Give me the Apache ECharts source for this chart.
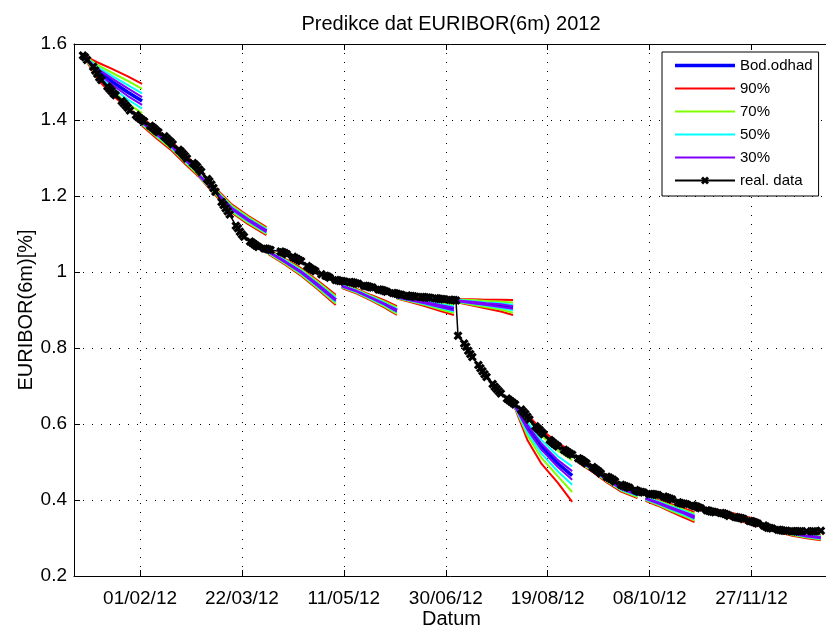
<!DOCTYPE html>
<html><head><meta charset="utf-8">
<script src="https://cdn.jsdelivr.net/npm/echarts@6/dist/echarts.min.js"></script>
<style>html,body{margin:0;padding:0;background:#fff;}#c{width:826px;height:628px;}</style>
</head><body><div id="c"></div>
<script>
// ---- data (x = day of year 2012, Jan 1 = 1) ----
const tickDays = [32, 82, 132, 182, 232, 282, 332];
const tickLabels = ['01/02/12', '22/03/12', '11/05/12', '30/06/12', '19/08/12', '08/10/12', '27/11/12'];
const legendNames = ['Bod.odhad', '90%', '70%', '50%', '30%', 'real. data'];

const realDays = [4,5,6, 9,10,11,12,13, 16,17,18,19,20, 23,24,25,26,27, 30,31,32,33,34, 37,38,39,40,41,
 44,45,46,47,48, 51,52,53,54,55, 58,59,60,61,62, 65,66,67,68,69, 72,73,74,75,76, 79,80,81,82,83,
 86,87,88,89,90, 93,94,95,96, 101,102,103,104, 107,108,109,110,111, 114,115,116,117,118, 121,123,124,125,
 128,129,130,131,132, 135,136,137,138,139, 142,143,144,145,146, 149,150,151,152,153, 156,157,158,159,160,
 163,164,165,166,167, 170,171,172,173,174, 177,178,179,180,181, 184,185,186,187,188, 191,192,193,194,195,
 198,199,200,201,202, 205,206,207,208,209, 212,213,214,215,216, 219,220,221,222,223, 226,227,228,229,230,
 233,234,235,236,237, 240,241,242,243,244, 247,248,249,250,251, 254,255,256,257,258, 261,262,263,264,265,
 268,269,270,271,272, 275,276,277,278,279, 282,283,284,285,286, 289,290,291,292,293, 296,297,298,299,300,
 303,304,305,306,307, 310,311,312,313,314, 317,318,319,320,321, 324,325,326,327,328, 331,332,333,334,335,
 338,339,340,341,342, 345,346,347,348,349, 352,353,354,355,356, 359,362,363, 366];
const realVals = [1.570,1.565,1.558, 1.540,1.530,1.522,1.512,1.505, 1.488,1.482,1.476,1.470,1.465,
 1.450,1.444,1.438,1.432,1.425, 1.413,1.408,1.404,1.400,1.396, 1.385,1.381,1.377,1.372,1.368,
 1.357,1.352,1.347,1.342,1.336, 1.322,1.317,1.311,1.305,1.299, 1.287,1.282,1.277,1.270,1.264,
 1.245,1.239,1.230,1.221,1.211, 1.184,1.176,1.168,1.160,1.151, 1.122,1.115,1.106,1.099,1.093,
 1.080,1.077,1.073,1.069,1.066, 1.062,1.061,1.059,1.058, 1.054,1.052,1.050,1.047,
 1.040,1.037,1.034,1.031,1.028, 1.016,1.012,1.008,1.005,1.002, 0.994,0.990,0.988,0.985,
 0.979,0.978,0.976,0.976,0.975, 0.974,0.973,0.972,0.970,0.969, 0.964,0.963,0.962,0.960,0.959,
 0.954,0.953,0.952,0.950,0.948, 0.945,0.944,0.943,0.941,0.940, 0.938,0.937,0.937,0.936,0.935,
 0.934,0.934,0.933,0.933,0.932, 0.931,0.930,0.929,0.929,0.928, 0.927,0.926,0.926,0.925,0.832,
 0.812,0.803,0.793,0.784,0.776, 0.755,0.747,0.739,0.731,0.724, 0.705,0.698,0.692,0.686,0.680,
 0.667,0.663,0.659,0.655,0.651, 0.638,0.632,0.626,0.619,0.612, 0.594,0.589,0.584,0.578,0.573,
 0.558,0.553,0.549,0.545,0.541, 0.532,0.529,0.525,0.522,0.519, 0.510,0.507,0.504,0.500,0.496,
 0.487,0.483,0.479,0.475,0.470, 0.461,0.459,0.456,0.453,0.449, 0.440,0.438,0.436,0.434,0.432,
 0.426,0.424,0.422,0.421,0.420, 0.416,0.416,0.415,0.414,0.413, 0.409,0.407,0.405,0.403,0.401,
 0.394,0.392,0.391,0.390,0.389, 0.386,0.384,0.383,0.380,0.378, 0.373,0.372,0.370,0.369,0.368,
 0.366,0.365,0.363,0.361,0.358, 0.355,0.354,0.353,0.352,0.350, 0.345,0.344,0.342,0.340,0.338,
 0.333,0.330,0.327,0.326,0.325, 0.322,0.321,0.320,0.319,0.319, 0.318,0.318,0.318,0.318,0.318,
 0.318,0.318,0.318, 0.319];

// forecast windows (one row per forecast)
const fanDays = [[4,11,18,26,33],[33,40,47,54,61],[61,69,77,85,94],[95,103,111,119,128],
 [131,138,145,152,158],[158,165,172,179,186],[188,195,202,209,215],[215,222,229,237,244],
 [247,254,261,268,276],[280,286,292,298,304],[306,313,320,327,335],[338,345,352,359,366]];
const bodOdhad = [[1.571,1.530,1.502,1.473,1.450],[1.395,1.364,1.334,1.297,1.262],[1.254,1.212,1.167,1.137,1.108],
 [1.053,1.028,1.000,0.967,0.927],[0.963,0.950,0.933,0.916,0.899],[0.934,0.927,0.919,0.911,0.903],
 [0.924,0.920,0.916,0.912,0.907],[0.655,0.592,0.540,0.496,0.464],[0.505,0.482,0.455,0.431,0.415],
 [0.404,0.393,0.380,0.368,0.355],[0.380,0.370,0.362,0.352,0.339],[0.333,0.321,0.312,0.306,0.301]];
const hi90 = [[1.571,1.552,1.535,1.515,1.495],[1.405,1.376,1.346,1.309,1.273],[1.258,1.221,1.178,1.148,1.118],
 [1.059,1.035,1.010,0.978,0.940],[0.968,0.956,0.940,0.925,0.910],[0.938,0.933,0.928,0.923,0.918],
 [0.928,0.928,0.927,0.927,0.926],[0.655,0.625,0.585,0.550,0.528],[0.512,0.490,0.463,0.440,0.424],
 [0.410,0.400,0.390,0.380,0.368],[0.384,0.376,0.369,0.360,0.348],[0.336,0.326,0.318,0.312,0.307]];
const hi70 = [[1.571,1.545,1.525,1.503,1.482],[1.402,1.372,1.342,1.305,1.270],[1.257,1.218,1.175,1.145,1.115],
 [1.057,1.033,1.007,0.975,0.936],[0.967,0.954,0.938,0.922,0.907],[0.937,0.931,0.925,0.919,0.913],
 [0.927,0.926,0.924,0.922,0.920],[0.655,0.615,0.570,0.530,0.505],[0.510,0.488,0.460,0.437,0.421],
 [0.408,0.398,0.387,0.376,0.364],[0.383,0.374,0.367,0.358,0.345],[0.335,0.325,0.316,0.310,0.305]];
const hi50 = [[1.571,1.540,1.517,1.492,1.470],[1.399,1.369,1.339,1.302,1.266],[1.256,1.215,1.171,1.141,1.112],
 [1.055,1.031,1.004,0.971,0.932],[0.965,0.952,0.936,0.919,0.903],[0.936,0.929,0.923,0.916,0.909],
 [0.926,0.923,0.920,0.918,0.914],[0.655,0.605,0.557,0.515,0.488],[0.508,0.485,0.458,0.435,0.418],
 [0.406,0.396,0.384,0.373,0.360],[0.382,0.372,0.365,0.355,0.343],[0.334,0.323,0.314,0.308,0.303]];
const hi30 = [[1.571,1.535,1.510,1.483,1.460],[1.397,1.366,1.336,1.299,1.264],[1.255,1.213,1.169,1.139,1.110],
 [1.054,1.029,1.002,0.969,0.929],[0.964,0.951,0.934,0.917,0.901],[0.935,0.928,0.921,0.913,0.906],
 [0.925,0.922,0.918,0.915,0.910],[0.655,0.598,0.548,0.505,0.476],[0.506,0.484,0.456,0.433,0.416],
 [0.405,0.394,0.382,0.370,0.358],[0.381,0.371,0.363,0.354,0.341],[0.334,0.322,0.313,0.307,0.302]];
const lo30 = [[1.571,1.525,1.494,1.463,1.440],[1.393,1.362,1.332,1.295,1.259],[1.253,1.210,1.165,1.135,1.105],
 [1.052,1.026,0.998,0.964,0.924],[0.962,0.949,0.932,0.914,0.896],[0.933,0.925,0.917,0.908,0.899],
 [0.923,0.918,0.913,0.908,0.903],[0.655,0.586,0.532,0.487,0.453],[0.504,0.480,0.453,0.429,0.413],
 [0.403,0.391,0.378,0.366,0.352],[0.379,0.369,0.360,0.350,0.337],[0.333,0.320,0.311,0.304,0.299]];
const lo50 = [[1.571,1.520,1.487,1.454,1.430],[1.391,1.359,1.329,1.292,1.257],[1.252,1.208,1.163,1.133,1.103],
 [1.051,1.025,0.996,0.962,0.921],[0.961,0.948,0.930,0.912,0.894],[0.932,0.924,0.915,0.906,0.896],
 [0.922,0.917,0.911,0.905,0.899],[0.655,0.578,0.522,0.475,0.440],[0.502,0.479,0.451,0.427,0.411],
 [0.402,0.390,0.376,0.363,0.350],[0.378,0.368,0.359,0.349,0.335],[0.332,0.319,0.310,0.303,0.298]];
const lo70 = [[1.571,1.515,1.478,1.443,1.418],[1.388,1.356,1.326,1.289,1.253],[1.251,1.205,1.159,1.129,1.100],
 [1.049,1.022,0.993,0.958,0.917],[0.960,0.946,0.928,0.909,0.890],[0.931,0.922,0.913,0.902,0.892],
 [0.921,0.914,0.907,0.901,0.893],[0.655,0.570,0.510,0.462,0.421],[0.500,0.476,0.449,0.425,0.408],
 [0.400,0.387,0.373,0.360,0.346],[0.377,0.366,0.356,0.346,0.333],[0.331,0.318,0.308,0.301,0.296]];
const lo90 = [[1.571,1.508,1.468,1.430,1.405],[1.385,1.352,1.322,1.285,1.250],[1.250,1.202,1.156,1.126,1.097],
 [1.047,1.020,0.990,0.955,0.913],[0.958,0.944,0.926,0.906,0.887],[0.930,0.920,0.910,0.898,0.887],
 [0.920,0.912,0.904,0.896,0.887],[0.655,0.558,0.495,0.445,0.395],[0.498,0.474,0.446,0.422,0.405],
 [0.398,0.385,0.370,0.356,0.342],[0.376,0.364,0.354,0.344,0.330],[0.330,0.316,0.306,0.299,0.294]];

// ---- chart ----
const FONT = "'Liberation Sans', Arial, Helvetica, sans-serif";
const X_MIN = -0.4, X_MAX = 370;
const crossPath = 'path://M0,2.5L2.5,0L5,2.5L7.5,0L10,2.5L7.5,5L10,7.5L7.5,10L5,7.5L2.5,10L0,7.5L2.5,5Z';

const groups = [
  { name: legendNames[0], color: '#0000ff', width: 3.5, lines: [bodOdhad] },
  { name: legendNames[1], color: '#ff0000', width: 2, lines: [hi90, lo90] },
  { name: legendNames[2], color: '#80ff00', width: 2, lines: [hi70, lo70] },
  { name: legendNames[3], color: '#00ffff', width: 2, lines: [hi50, lo50] },
  { name: legendNames[4], color: '#8000ff', width: 2, lines: [hi30, lo30] }
];
const series = [];
groups.forEach(g => {
  g.lines.forEach(arr => {
    fanDays.forEach((days, i) => {
      series.push({
        type: 'line', name: g.name, xAxisIndex: 0, yAxisIndex: 0,
        data: days.map((d, j) => [d, arr[i][j]]),
        symbol: 'none', showSymbol: false, silent: true,
        lineStyle: { color: g.color, width: g.width },
        itemStyle: { color: g.color },
        emphasis: { disabled: true }
      });
    });
  });
});
series.push({
  type: 'line', name: legendNames[5], xAxisIndex: 0, yAxisIndex: 0,
  data: realDays.map((d, i) => [d, realVals[i]]),
  symbol: crossPath, symbolSize: 9, showSymbol: true, silent: true,
  lineStyle: { color: '#000', width: 1.5 },
  itemStyle: { color: '#000' },
  emphasis: { disabled: true }
});

const legendData = groups.map(g => ({
  name: g.name,
  icon: 'path://M0,0h60v' + g.width + 'h-60z',
  itemStyle: { color: g.color }
}));
legendData.push({ name: legendNames[5] });

const chart = echarts.init(document.getElementById('c'), null, { renderer: 'canvas' });
chart.setOption({
  animation: false,
  backgroundColor: '#fff',
  textStyle: { fontFamily: FONT },
  title: {
    text: 'Predikce dat EURIBOR(6m) 2012', left: 446, top: 9, textAlign: 'center',
    textStyle: { fontFamily: FONT, fontSize: 20, fontWeight: 'normal', color: '#000' }
  },
  legend: {
    data: legendData, orient: 'vertical', left: 662, top: 52,
    itemWidth: 60, itemHeight: 10, itemGap: 8, symbolKeepAspect: true,
    padding: [6, 6, 8, 12],
    backgroundColor: '#fff', borderColor: '#000', borderWidth: 1, borderRadius: 0,
    textStyle: { fontSize: 15, fontFamily: FONT, color: '#000' },
    selectedMode: false
  },
  grid: { left: 74, top: 44, width: 755, height: 532, containLabel: false, outerBoundsMode: 'none', show: false },
  xAxis: [{
    type: 'value', min: X_MIN, max: X_MAX, position: 'bottom',
    axisLine: { show: true, onZero: false, lineStyle: { color: '#000', width: 1 } },
    axisTick: { show: true, inside: true, length: 6, customValues: tickDays, lineStyle: { color: '#000' } },
    axisLabel: { show: true, customValues: tickDays, formatter: v => tickLabels[tickDays.indexOf(v)] || '',
      color: '#000', fontSize: 19, fontFamily: FONT, margin: 13 },
    splitLine: { show: true, lineStyle: { color: '#000', width: 1, type: [1, 8] } },
    name: 'Datum', nameLocation: 'middle', nameGap: 33, nameMoveOverlap: false,
    nameTextStyle: { color: '#000', fontSize: 20, fontFamily: FONT }
  }, {
    type: 'value', min: X_MIN, max: X_MAX, position: 'top',
    axisLine: { show: true, onZero: false, lineStyle: { color: '#000', width: 1 } },
    axisTick: { show: true, inside: true, length: 6, customValues: tickDays, lineStyle: { color: '#000' } },
    axisLabel: { show: false }, splitLine: { show: false }
  }],
  yAxis: {
    type: 'value', min: 0.2, max: 1.6, interval: 0.2,
    axisLine: { show: true, onZero: false, lineStyle: { color: '#000', width: 1 } },
    axisTick: { show: true, inside: true, length: 6, lineStyle: { color: '#000' } },
    axisLabel: { formatter: v => String(Math.round(v * 10) / 10), color: '#000', fontSize: 19, fontFamily: FONT, margin: 7 },
    splitLine: { show: true, lineStyle: { color: '#000', width: 1, type: [1, 8] } },
    name: 'EURIBOR(6m)[%]', nameLocation: 'middle', nameGap: 38, nameRotate: 90, nameMoveOverlap: false,
    nameTextStyle: { color: '#000', fontSize: 20, fontFamily: FONT }
  },
  series: series
});
</script>
</body></html>
